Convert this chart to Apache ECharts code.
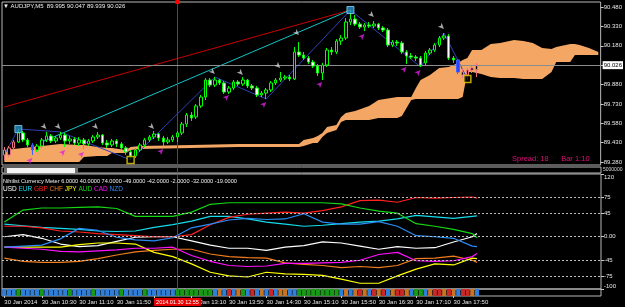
<!DOCTYPE html>
<html>
<head>
<meta charset="utf-8">
<script src="https://cdn.jsdelivr.net/npm/echarts@6/dist/echarts.min.js"></script>
<style>
html, body { margin: 0; padding: 0; background: #000; }
#chart { width: 625px; height: 307px; }
</style>
</head>
<body>
<div id="chart"></div>
<script>
// AUDJPY M5, 30 Jan 2014 from 09:50, 102 real bars + 26 bars of cloud shift
const barCount = 128;
const markBar = 37; // vertical line at 12:55

const tickLabels = ['30 Jan 2014', '30 Jan 10:30', '30 Jan 11:10', '30 Jan 11:50', '30 Jan 12:30',
    '30 Jan 13:10', '30 Jan 13:50', '30 Jan 14:30', '30 Jan 15:10', '30 Jan 15:50',
    '30 Jan 16:30', '30 Jan 17:10', '30 Jan 17:50'];

// [open, close, low, high]
const candles = [
    [89.373, 89.335, 89.296, 89.396], [89.335, 89.389, 89.319, 89.404], [89.389, 89.435, 89.373, 89.451],
    [89.435, 89.505, 89.427, 89.536], [89.505, 89.451, 89.435, 89.520], [89.451, 89.412, 89.396, 89.466],
    [89.412, 89.373, 89.335, 89.427], [89.373, 89.404, 89.358, 89.420], [89.404, 89.451, 89.389, 89.466],
    [89.451, 89.482, 89.435, 89.513], [89.482, 89.443, 89.427, 89.497], [89.443, 89.466, 89.427, 89.482],
    [89.466, 89.489, 89.451, 89.513], [89.489, 89.443, 89.396, 89.505], [89.443, 89.458, 89.420, 89.482],
    [89.458, 89.427, 89.412, 89.474], [89.427, 89.451, 89.404, 89.474], [89.451, 89.420, 89.381, 89.466],
    [89.420, 89.443, 89.404, 89.458], [89.443, 89.474, 89.427, 89.489], [89.474, 89.489, 89.458, 89.513],
    [89.489, 89.427, 89.412, 89.497], [89.427, 89.412, 89.389, 89.451], [89.412, 89.443, 89.396, 89.458],
    [89.443, 89.420, 89.396, 89.458], [89.420, 89.389, 89.373, 89.435], [89.389, 89.358, 89.335, 89.404],
    [89.358, 89.327, 89.296, 89.373], [89.327, 89.373, 89.311, 89.389], [89.373, 89.412, 89.358, 89.427],
    [89.412, 89.451, 89.396, 89.466], [89.451, 89.474, 89.435, 89.489], [89.474, 89.497, 89.458, 89.520],
    [89.497, 89.466, 89.443, 89.505], [89.466, 89.435, 89.404, 89.482], [89.435, 89.451, 89.420, 89.474],
    [89.451, 89.474, 89.435, 89.489], [89.474, 89.505, 89.435, 89.520], [89.505, 89.574, 89.489, 89.590],
    [89.574, 89.644, 89.551, 89.660], [89.644, 89.621, 89.598, 89.667], [89.629, 89.714, 89.613, 89.729],
    [89.714, 89.783, 89.698, 89.799], [89.783, 89.915, 89.760, 89.930], [89.915, 89.876, 89.861, 89.930],
    [89.876, 89.915, 89.861, 89.938], [89.915, 89.892, 89.876, 89.923], [89.892, 89.822, 89.807, 89.907],
    [89.822, 89.853, 89.807, 89.869], [89.853, 89.900, 89.838, 89.915], [89.900, 89.884, 89.869, 89.915],
    [89.884, 89.915, 89.869, 89.938], [89.915, 89.869, 89.853, 89.923], [89.869, 89.853, 89.838, 89.884],
    [89.853, 89.799, 89.783, 89.869], [89.799, 89.814, 89.783, 89.830], [89.814, 89.838, 89.768, 89.853],
    [89.838, 89.892, 89.822, 89.907], [89.892, 89.915, 89.876, 89.930], [89.915, 89.930, 89.900, 89.977],
    [89.930, 89.938, 89.915, 89.954], [89.938, 89.923, 89.907, 89.954], [89.923, 90.132, 89.915, 90.170],
    [90.132, 90.108, 90.093, 90.209], [90.108, 90.085, 90.070, 90.132], [90.085, 90.054, 90.039, 90.101],
    [90.054, 90.023, 90.008, 90.070], [90.023, 89.969, 89.946, 90.039], [89.969, 90.031, 89.915, 90.047],
    [90.031, 90.147, 90.016, 90.163], [90.147, 90.132, 90.108, 90.170], [90.132, 90.217, 90.116, 90.232],
    [90.217, 90.240, 90.186, 90.263], [90.240, 90.364, 90.225, 90.395], [90.364, 90.387, 90.341, 90.457],
    [90.387, 90.348, 90.333, 90.418], [90.348, 90.325, 90.310, 90.364], [90.325, 90.341, 90.294, 90.356],
    [90.341, 90.333, 90.318, 90.364], [90.333, 90.348, 90.318, 90.372], [90.348, 90.318, 90.302, 90.356],
    [90.318, 90.302, 90.287, 90.333], [90.302, 90.186, 90.170, 90.318], [90.186, 90.209, 90.170, 90.225],
    [90.209, 90.201, 90.178, 90.225], [90.201, 90.132, 90.116, 90.217], [90.132, 90.101, 90.039, 90.147],
    [90.101, 90.093, 90.078, 90.124], [90.093, 90.085, 90.062, 90.108], [90.085, 90.031, 90.016, 90.101],
    [90.047, 90.124, 90.031, 90.140], [90.124, 90.147, 90.108, 90.163], [90.147, 90.186, 90.132, 90.201],
    [90.186, 90.240, 90.170, 90.256], [90.240, 90.256, 90.225, 90.279], [90.256, 90.085, 90.070, 90.271],
    [90.085, 90.070, 90.047, 90.101], [90.070, 89.977, 89.961, 90.078], [89.977, 89.954, 89.930, 90.000],
    [89.954, 89.992, 89.915, 90.008], [89.992, 90.008, 89.969, 90.023], [89.995, 90.026, 89.939, 90.047]
];
const pinkBars = [0, 1, 2, 98, 99, 100, 101];
const blueBars = [6, 97];

// ichimoku cloud edges
const cloudIdx = [0, 4, 8, 12, 16, 17, 20, 22, 23, 26, 27, 29, 40, 50, 63, 64, 66, 67, 68, 69, 71, 72, 73, 75, 78, 80,
    84, 85, 86, 87, 88, 89, 91, 93, 95, 97, 98, 99, 100, 102, 104, 106, 109, 111, 113, 115, 117, 118, 121, 122, 123, 125, 127];
const cloudHigh = [89.373, 89.389, 89.404, 89.420, 89.412, 89.412, 89.396, 89.389, 89.389, 89.373, 89.396, 89.404, 89.412,
    89.420, 89.420, 89.451, 89.466, 89.482, 89.505, 89.551, 89.567, 89.629, 89.660, 89.675, 89.714, 89.760,
    89.783, 89.783, 89.783, 89.783, 89.853, 89.915, 89.954, 90.008, 90.016, 90.047, 90.070, 90.085, 90.147, 90.147,
    90.194, 90.201, 90.225, 90.217, 90.201, 90.163, 90.155, 90.170, 90.194, 90.194, 90.186, 90.163, 90.132];
const cloudLow = [89.280, 89.280, 89.280, 89.280, 89.280, 89.319, 89.327, 89.327, 89.350, 89.350, 89.373, 89.381, 89.389,
    89.396, 89.396, 89.404, 89.427, 89.427, 89.474, 89.505, 89.528, 89.590, 89.605, 89.605, 89.605, 89.621,
    89.621, 89.636, 89.698, 89.760, 89.768, 89.768, 89.768, 89.768, 89.768, 89.768, 89.783, 89.977, 89.977, 89.961,
    89.938, 89.930, 89.930, 89.923, 89.923, 89.923, 89.977, 90.054, 90.054, 90.108, 90.108, 90.108, 90.108];

const redTrend = [[0, 89.706], [74, 90.457]];
const cyanTrend = [[8, 89.435], [74, 90.457]];
const zigzag = [[0, 89.335], [3, 89.536], [12, 89.513], [27, 89.296], [45, 89.938], [56, 89.768],
    [74, 90.457], [89, 90.016], [94, 90.279], [99, 89.923]];
const upFractals = [[9, 89.536], [12, 89.536], [20, 89.536], [32, 89.536], [45, 89.961], [51, 89.954],
    [59, 90.008], [63, 90.263], [79, 90.403], [94, 90.310]];
const downFractals = [[6, 89.311], [13, 89.373], [17, 89.358], [34, 89.381], [48, 89.799], [56, 89.745],
    [68, 89.900], [77, 90.271], [86, 90.016], [89, 89.992]];
const cyanBoxes = [[3, 89.536], [74, 90.457]];
const yellowBoxes = [[27, 89.296], [99, 89.923]];

const priceTicks = [89.28, 89.43, 89.58, 89.73, 89.88, 90.03, 90.18, 90.33, 90.48];
const priceLabels = [89.28, 89.43, 89.58, 89.73, 89.88, 90.18, 90.33, 90.48];

// currency meter, sampled every 4 bars
const meterIdx = [0, 4, 8, 12, 16, 20, 24, 28, 32, 36, 40, 44, 48, 52, 56, 60, 64, 68, 72, 76, 80, 84, 88, 92, 96, 100, 101];
const usd = [0, 4, -3, -14, -19, -17, -9, -1, 0, 0, -8, -16, -22, -22, -26, -20, -17, -10, -12, -18, -24, -19, -22, -21, -10, 0, 6];
const eur = [24, 21, 18, 16, 14, 11, 10, 11, 18, 23, 30, 39, 39, 34, 28, 24, 20, 22, 25, 28, 30, 34, 41, 38, 35, 39, 40];
const gbp = [20, 20, 17, 11, 9, 6, 4, 2, 0, 0, 4, 23, 37, 43, 45, 47, 45, 50, 57, 69, 70, 66, 75, 74, 75, 76, 74];
const chf = [-41, -47, -49, -49, -47, -42, -35, -29, -26, -24, -24, -33, -38, -40, -41, -50, -53, -55, -59, -57, -59, -55, -42, -41, -37, -45, -49];
const jpy = [-20, -20, -20, -20, -15, -12, -12, -14, -30, -38, -52, -68, -75, -77, -68, -71, -72, -74, -81, -89, -89, -75, -62, -52, -54, -41, -42];
const aud = [28, 51, 55, 55, 56, 57, 54, 39, 39, 39, 47, 62, 65, 65, 65, 65, 65, 65, 63, 55, 49, 45, 25, 20, 14, 6, -2];
const cad = [-20, -22, -24, -28, -29, -27, -25, -22, -22, -20, -36, -47, -55, -57, -56, -51, -51, -50, -49, -45, -34, -30, -46, -47, -46, -38, -32];
const nzd = [-20, -18, -16, -4, 16, 12, -1, -6, -8, -2, 17, 24, 32, 35, 33, 34, 44, 28, 24, 24, 29, 20, 2, 0, -3, -18, -19];
const meterLevels = [75, 45, 0, -45, -75];
const meterLabels = [-100, -75, -45, 0, 45, 75, 120];

// strongest-currency strip, one letter per bar
const stripCodes = 'NNNGNNNNGN' + 'NNNNGNNNNG' + 'NNNNNGNNNN' + 'GNNNNNN' + 'GGGGGGGG' + 'NONRNOGN' +
    'RNONRNOO' + 'NNGGGG' + 'GGGGGNONO' + 'RONRORNOR' + 'RONGGNORRORONRRON';
const stripColors = { N: '#2f7fd8', G: '#189a18', R: '#c82828', O: '#c87422' };

const currencies = ['USD', 'EUR', 'GBP', 'CHF', 'JPY', 'AUD', 'CAD', 'NZD'];
const meter = { USD: usd, EUR: eur, GBP: gbp, CHF: chf, JPY: jpy, AUD: aud, CAD: cad, NZD: nzd };
const meterColors = {
    USD: '#ffffff', EUR: '#14dcec', GBP: '#ff2020', CHF: '#f07c1c',
    JPY: '#ffff00', AUD: '#12d812', CAD: '#ff10ff', NZD: '#2a8cf4'
};

const times = [];
for (let k = 0; k < barCount; k++) {
    const m = 9 * 60 + 50 + k * 5;
    times.push(String(Math.floor(m / 60)).padStart(2, '0') + ':' + String(m % 60).padStart(2, '0'));
}

const font = 'Liberation Sans';
const frame = '#b8b8b8';
const last = candles[candles.length - 1];
const headText = '\u25BC AUDJPY,M5  ' + [last[0], last[3], last[2], last[1]].map(v => v.toFixed(3)).join(' ');
const meterText = 'Nihilist Currency Meter ' + currencies.map(c => meter[c][meter[c].length - 1].toFixed(4)).join(' ');

const candleData = candles.map((c, i) => {
    if (pinkBars.indexOf(i) >= 0) {
        return { value: c, itemStyle: { color: '#000', color0: '#f07080', borderColor: '#f07080', borderColor0: '#f07080' } };
    }
    if (blueBars.indexOf(i) >= 0) {
        return { value: c, itemStyle: { color: '#2840ff', color0: '#2840ff', borderColor: '#4060ff', borderColor0: '#4060ff' } };
    }
    return c;
});

const gridTops = [[2, 163], [167, 6], [174, 115], [289, 7]];
const grids = gridTops.map(g => ({
    left: 2, right: 24, top: g[0], height: g[1],
    show: true, borderColor: frame, borderWidth: 1, backgroundColor: 'transparent'
}));

const xAxes = grids.map((g, i) => ({
    type: 'category', gridIndex: i, data: times, boundaryGap: true,
    axisLine: { show: false },
    axisTick: {
        show: i === 3, alignWithLabel: true, length: 2,
        lineStyle: { color: '#c8c8c8' },
        interval: idx => idx % 8 === 0 && idx / 8 < tickLabels.length
    },
    axisLabel: {
        show: i === 3, color: '#e6e6e6', fontSize: 6, fontFamily: font, align: 'left', margin: 3,
        interval: idx => idx % 8 === 0 && idx / 8 < tickLabels.length,
        formatter: (v, idx) => tickLabels[idx / 8] || ''
    },
    splitLine: { show: false }
}));

const yAxes = [
    {
        type: 'value', gridIndex: 0, position: 'right', min: 89.257, max: 90.519, scale: true,
        axisLine: { show: false },
        axisTick: { show: true, length: 3, customValues: priceTicks, lineStyle: { color: '#c8c8c8' } },
        axisLabel: { color: '#e6e6e6', fontSize: 6, fontFamily: font, margin: 3, customValues: priceLabels,
            formatter: v => v.toFixed(3) },
        splitLine: { show: false }
    },
    { type: 'value', gridIndex: 1, min: 0, max: 1, show: false },
    {
        type: 'value', gridIndex: 2, position: 'right', min: -100, max: 120,
        axisLine: { show: false },
        axisTick: { show: true, length: 3, customValues: meterLabels, lineStyle: { color: '#c8c8c8' } },
        axisLabel: { color: '#e6e6e6', fontSize: 6, fontFamily: font, margin: 3, customValues: meterLabels,
            verticalAlignMinLabel: 'bottom', verticalAlignMaxLabel: 'top',
            formatter: v => v === 0 ? '0.00' : String(v) },
        splitLine: { show: false }
    },
    { type: 'value', gridIndex: 3, min: 0, max: 1, show: false }
];

const series = [
    {
        name: 'cloudBase', type: 'line', stack: 'cloud', xAxisIndex: 0, yAxisIndex: 0, z: 1,
        symbol: 'none', lineStyle: { opacity: 0 },
        data: cloudIdx.map((k, i) => [k, cloudLow[i]])
    },
    {
        name: 'cloud', type: 'line', stack: 'cloud', xAxisIndex: 0, yAxisIndex: 0, z: 1,
        symbol: 'none', lineStyle: { width: 0, opacity: 0 },
        areaStyle: { color: '#f4a664', opacity: 1 },
        data: cloudIdx.map((k, i) => [k, +(cloudHigh[i] - cloudLow[i]).toFixed(4)])
    },
    {
        name: 'redTrend', type: 'line', xAxisIndex: 0, yAxisIndex: 0, z: 3, symbol: 'none',
        lineStyle: { color: '#c80000', width: 1 }, data: redTrend,
        markLine: {
            silent: true, symbol: ['none', 'rect'], symbolSize: 4, label: { show: false },
            lineStyle: { color: '#ff0000', width: 1, type: 'solid' },
            data: [{ xAxis: times[markBar] }]
        }
    },
    {
        name: 'cyanTrend', type: 'line', xAxisIndex: 0, yAxisIndex: 0, z: 3, symbol: 'none',
        lineStyle: { color: '#12c4c8', width: 1 }, data: cyanTrend
    },
    {
        name: 'zigzag', type: 'line', xAxisIndex: 0, yAxisIndex: 0, z: 4, symbol: 'none',
        lineStyle: { color: '#3040b8', width: 1 }, data: zigzag
    },
    {
        name: 'candles', type: 'candlestick', xAxisIndex: 0, yAxisIndex: 0, z: 5,
        barWidth: 3,
        itemStyle: { color: '#000', color0: '#fff', borderColor: '#00ff00', borderColor0: '#00ff00', borderWidth: 1 },
        data: candleData,
        markLine: {
            silent: true, symbol: 'none',
            lineStyle: { color: '#8c8c8c', width: 1, type: 'solid' },
            label: {
                show: true, position: 'end', distance: 2, formatter: last[1].toFixed(3),
                color: '#000', backgroundColor: '#fff', padding: [1, 1], fontSize: 6, fontFamily: font
            },
            data: [{ yAxis: last[1] }]
        }
    },
    {
        name: 'upFractals', type: 'scatter', xAxisIndex: 0, yAxisIndex: 0, z: 6,
        symbol: 'arrow', symbolSize: [4, 6], symbolRotate: -135,
        itemStyle: { color: '#cfcfcf' }, data: upFractals
    },
    {
        name: 'downFractals', type: 'scatter', xAxisIndex: 0, yAxisIndex: 0, z: 6,
        symbol: 'arrow', symbolSize: [4, 6], symbolRotate: -45,
        itemStyle: { color: '#e020e0' }, data: downFractals
    },
    {
        name: 'cyanBoxes', type: 'scatter', xAxisIndex: 0, yAxisIndex: 0, z: 7,
        symbol: 'rect', symbolSize: 7,
        itemStyle: { color: '#2a8cc8', borderColor: '#7fd8ff', borderWidth: 1 }, data: cyanBoxes
    },
    {
        name: 'yellowBoxes', type: 'scatter', xAxisIndex: 0, yAxisIndex: 0, z: 7,
        symbol: 'rect', symbolSize: 7,
        itemStyle: { color: '#000', borderColor: '#f0d000', borderWidth: 1.5 }, data: yellowBoxes
    },
    {
        name: 'subMark', type: 'line', xAxisIndex: 1, yAxisIndex: 1, symbol: 'none', data: [],
        markLine: {
            silent: true, symbol: 'none', label: { show: false },
            lineStyle: { color: '#ff0000', width: 1, type: 'solid' },
            data: [{ xAxis: times[markBar] }]
        }
    }
];

currencies.forEach((c, ci) => {
    const s = {
        name: c, type: 'line', xAxisIndex: 2, yAxisIndex: 2, symbol: 'none', z: 4,
        lineStyle: { color: meterColors[c], width: 1.2 },
        data: meterIdx.map((k, i) => [k, meter[c][i]])
    };
    if (ci === 0) {
        s.markLine = {
            silent: true, symbol: 'none', label: { show: false },
            lineStyle: { color: '#bdbdbd', width: 1, type: [2, 2] },
            data: meterLevels.map(v => ({ yAxis: v })).concat([
                { xAxis: times[markBar], lineStyle: { color: '#ff0000', width: 1, type: 'solid' } }
            ])
        };
    }
    series.push(s);
});

series.push({
    name: 'strip', type: 'bar', xAxisIndex: 3, yAxisIndex: 3, barCategoryGap: '12%',
    data: stripCodes.split('').map(c => ({ value: 1, itemStyle: { color: stripColors[c] } })),
    markLine: {
        silent: true, symbol: 'none',
        lineStyle: { color: '#ff0000', width: 1, opacity: 0 },
        label: {
            show: true, position: 'start', distance: 2, formatter: '2014.01.30 12:55',
            color: '#fff', backgroundColor: '#e80000', padding: [1, 2], fontSize: 5.5, fontFamily: font, opacity: 1
        },
        data: [{ xAxis: times[markBar] }]
    }
});

const option = {
    backgroundColor: '#000',
    animation: false,
    textStyle: { fontFamily: font },
    title: [
        { text: headText, left: 3, top: 3, padding: 0,
            textStyle: { color: '#f0f0f0', fontSize: 6, fontWeight: 'normal', fontFamily: font } },
        { text: meterText, left: 3, top: 178, padding: 0,
            textStyle: { color: '#f0f0f0', fontSize: 5.6, fontWeight: 'normal', fontFamily: font } },
        { text: currencies.map(c => '{' + c + '|' + c + '}').join(' '), left: 3, top: 186, padding: 0,
            textStyle: { fontSize: 6.5, fontWeight: 'normal', fontFamily: font,
                rich: Object.fromEntries(currencies.map(c => [c, { color: meterColors[c], fontSize: 6.5, fontFamily: font }])) } },
        { text: '{a|Spread: 18}      {a|Bar 1:10}', left: 512, top: 155, padding: 0,
            textStyle: { fontSize: 7.5, fontWeight: 'normal', fontFamily: font,
                rich: { a: { color: '#e0127a', fontSize: 7.5, fontFamily: font } } } }
    ],
    grid: grids,
    xAxis: xAxes,
    yAxis: yAxes,
    series: series,
    graphic: [
        { type: 'rect', shape: { x: 4, y: 168, width: 74, height: 5 }, style: { fill: '#f4f4f4' }, z: 10 },
        { type: 'rect', shape: { x: 4, y: 168, width: 3, height: 5 }, style: { fill: '#707070' }, z: 11 },
        { type: 'rect', shape: { x: 75, y: 168, width: 3, height: 5 }, style: { fill: '#707070' }, z: 11 },
        { type: 'text', left: 603, top: 167, style: { text: '5000000', fill: '#dcdcdc', font: '5px Liberation Sans' }, z: 10 }
    ]
};

const chart = echarts.init(document.getElementById('chart'));
chart.setOption(option);
</script>
</body>
</html>
